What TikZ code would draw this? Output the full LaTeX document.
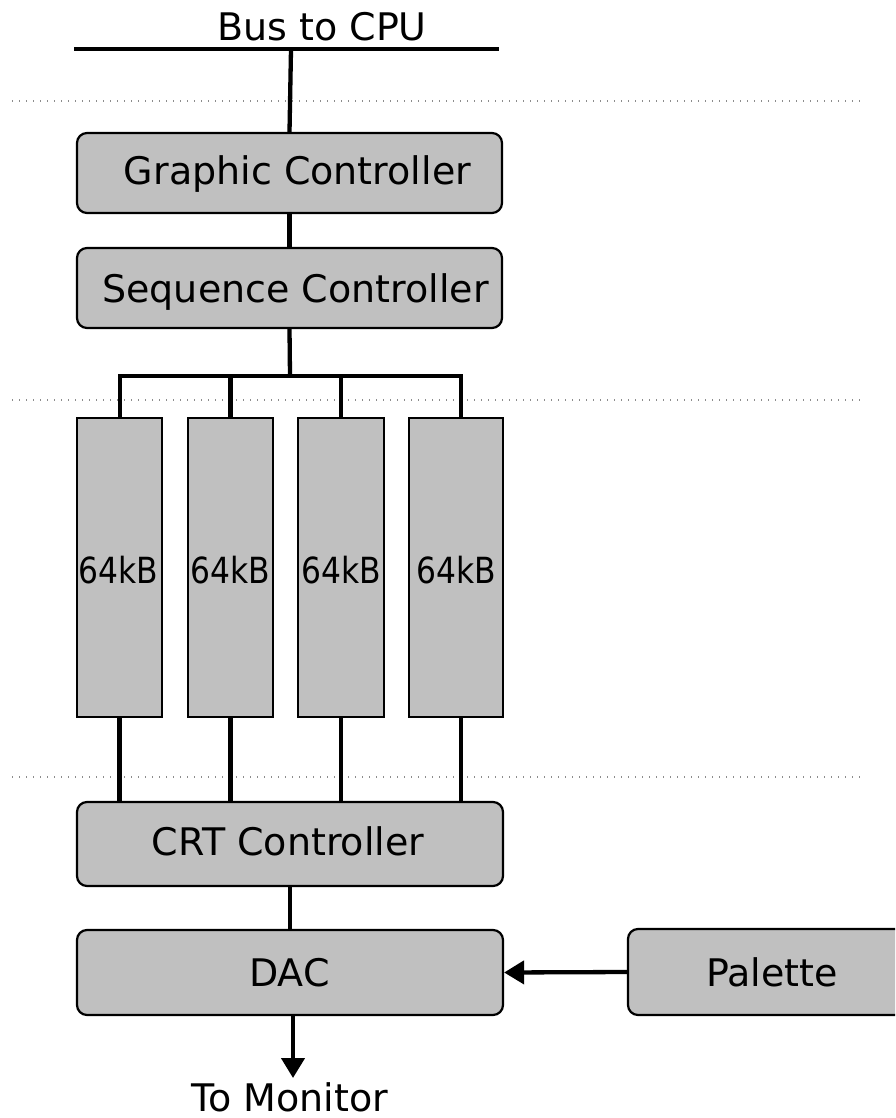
\documentclass[tikz,border=0pt]{standalone}
\usepackage{fontspec}
\setmainfont{DejaVu Sans}
\usetikzlibrary{arrows.meta}
\definecolor{boxgray}{RGB}{192,192,192}
\definecolor{guide}{RGB}{140,140,140}

\begin{document}
\begin{tikzpicture}[x=1pt,y=-1pt,
  unit/.style={draw=black, line width=2.2pt, fill=boxgray, rounded corners=10pt, inner sep=0pt},
  bank/.style={draw=black, line width=2.2pt, fill=boxgray, inner sep=0pt, minimum height=299pt},
  lbl/.style={anchor=base, inner sep=0pt, font=\fontsize{38}{40}\selectfont},
  banklbl/.style={anchor=base, inner sep=0pt, font=\fontsize{36}{38}\selectfont},
  wire/.style={line width=4.3pt},
  feed/.style={line width=4.3pt, -{Triangle[length=20pt,width=23pt]}},
  guideline/.style={guide, line width=1.2pt, dash pattern=on 1.2pt off 5.8pt}]

\clip (0,0) rectangle (895,1118);

% level separators
\draw[guideline] (12,101) -- (862,101);
\draw[guideline] (12,400) -- (862,400);
\draw[guideline] (12,777) -- (862,777);

% blocks
\node[unit, minimum width=425pt, minimum height=80pt] (gc) at (289.5,173) {};
\node[unit, minimum width=425pt, minimum height=80pt] (sc) at (289.5,288) {};
\node[bank, minimum width=85pt] (b1) at (119.5,567.5) {};
\node[bank, minimum width=85pt] (b2) at (230.5,567.5) {};
\node[bank, minimum width=86pt] (b3) at (341,567.5) {};
\node[bank, minimum width=94pt] (b4) at (456,567.5) {};
\node[unit, minimum width=426pt, minimum height=84pt] (crt) at (290,844) {};
\node[unit, minimum width=426pt, minimum height=85pt] (dac) at (290,972.5) {};
\node[unit, minimum width=282pt, minimum height=86pt] (pal) at (769,972) {};

% labels
\node[lbl] (tbus) at (322,41) {Bus to CPU};
\node[lbl] (tgc) at (297.5,185) {Graphic Controller};
\node[lbl] (tsc) at (295.5,302) {Sequence Controller};
\node[banklbl] (tb1) at (118.5,583) {\scalebox{0.87}[1]{64kB}};
\node[banklbl] (tb2) at (230.5,583) {\scalebox{0.87}[1]{64kB}};
\node[banklbl] (tb3) at (341,583) {\scalebox{0.87}[1]{64kB}};
\node[banklbl] (tb4) at (456,583) {\scalebox{0.87}[1]{64kB}};
\node[lbl] (tcrt) at (288,855) {CRT Controller};
\node[lbl] (tdac) at (289.5,986) {DAC};
\node[lbl] (tpal) at (772,986) {Palette};
\node[lbl] (tmon) at (290,1111) {To Monitor};

% bus and wiring
\coordinate (busL) at (74,49);
\coordinate (busR) at (499,49);
\coordinate (busT) at (291,49);
\coordinate (fork) at (290,376);
\coordinate (barL) at (120,376);
\coordinate (barR) at (461,376);
\coordinate (out) at (293,1078);

\draw[wire] (busL) -- (busR);
\draw[wire] (busT) -- (gc.north);
\draw[wire] (gc.south) -- (sc.north);
\draw[wire] (sc.south) -- (fork);
\draw[wire] (b1.north -| barL) -- (barL) -- (barR) -- (b4.north -| barR);
\draw[wire] (b2.north) -- (b2.north |- barL);
\draw[wire] (b3.north) -- (b3.north |- barL);

\draw[wire] (b1.south) -- (b1.south |- crt.north);
\draw[wire] (b2.south) -- (b2.south |- crt.north);
\draw[wire] (b3.south) -- (b3.south |- crt.north);
\draw[wire] (b4.south -| barR) -- (barR |- crt.north);

\draw[wire] (crt.south) -- (dac.north);
\draw[feed] (pal.west) -- (dac.east);
\draw[feed] (dac.south -| out) -- (out);
\end{tikzpicture}
\end{document}
